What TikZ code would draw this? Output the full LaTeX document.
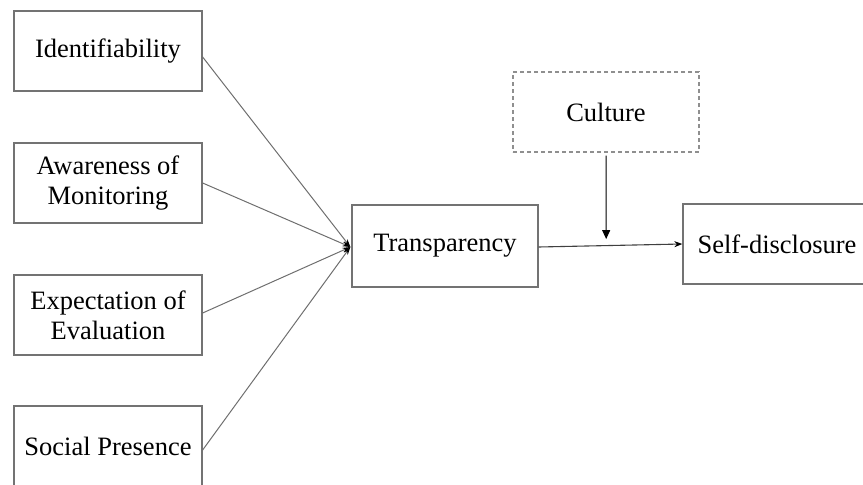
\documentclass[tikz,border=0pt]{standalone}
\usepackage{fontspec}
\setmainfont{Liberation Serif}
\usetikzlibrary{arrows.meta,calc}
\definecolor{boxgray}{RGB}{115,115,115}
\definecolor{linegray}{RGB}{110,110,110}
\tikzset{
  box/.style={draw=boxgray, line width=1.3pt, minimum width=188pt, minimum height=80pt,
    align=center, inner sep=2pt, font=\fontsize{26.5}{30}\selectfont},
  dbox/.style={box, dashed, dash pattern=on 4pt off 3pt, draw=boxgray!80},
  link/.style={draw=linegray, line width=1pt, -{Stealth[length=8pt,width=5pt,black]}},
  mainlink/.style={draw=black!75, line width=1.1pt, -{Stealth[length=8pt,width=6pt,black]}},
  modlink/.style={draw=black, line width=1pt, -{Triangle[length=9pt,width=8pt]}}
}
\begin{document}
\begin{tikzpicture}[x=1pt,y=-1pt]
\path[use as bounding box] (0,0) rectangle (863,485);
\clip (0,0) rectangle (863,485);
\node[box] (ident) at (108,51) {Identifiability};
\node[box] (aware) at (108,183) {Awareness of\\Monitoring};
\node[box] (expect) at (108,315) {Expectation of\\Evaluation};
\node[box] (social) at (108,446) {Social Presence};
\node[box, minimum width=186pt, minimum height=82pt] (trans) at (445,246) {Transparency};
\node[dbox, minimum width=186pt] (cult) at (606,112) {Culture};
\node[box] (self) at (777,244) {Self-disclosure};
\coordinate (conv) at ($(trans.west)+(-1,1)$);
\draw[link] ([yshift=-6pt]ident.east) -- (conv);
\draw[link] (aware.east) -- (conv);
\draw[link] ([yshift=2pt]expect.east) -- (conv);
\draw[link] ([yshift=-4pt]social.east) -- (conv);
\draw[mainlink] ([yshift=-1pt]trans.east) -- (self.west);
\coordinate (mod) at ($(trans.east)!0.47!(self.west)+(0,-6)$);
\draw[modlink] ([yshift=-3pt]cult.south) -- (mod);
\end{tikzpicture}
\end{document}
